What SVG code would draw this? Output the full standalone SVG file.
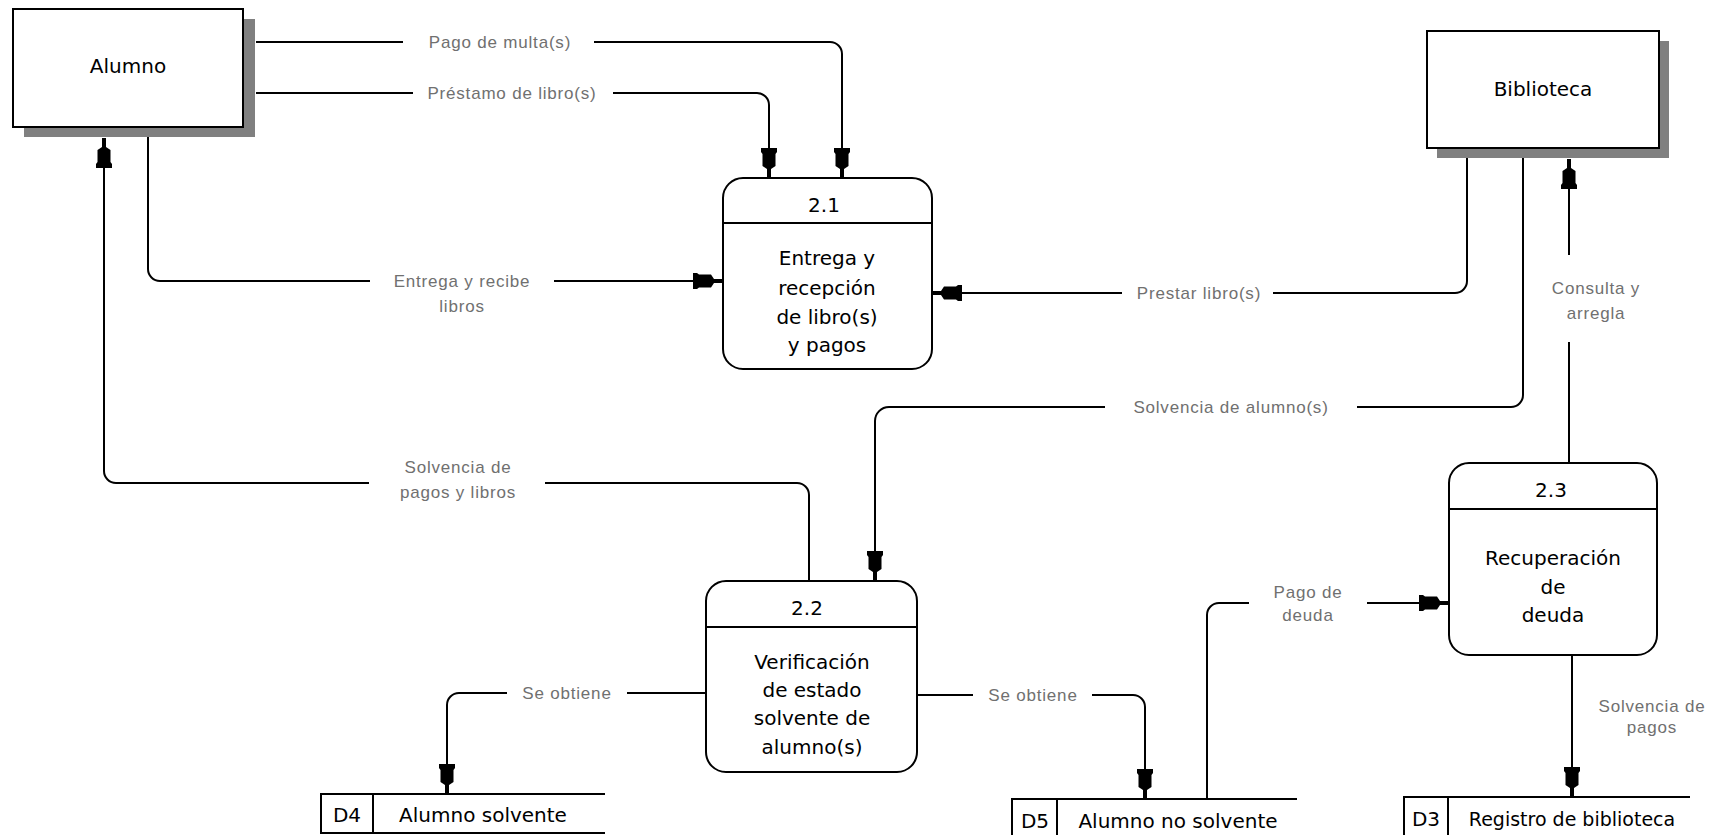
<svg xmlns="http://www.w3.org/2000/svg" width="1715" height="835" viewBox="0 0 1715 835">
  <style>
    .box { fill: #ffffff; stroke: #000000; stroke-width: 2; }
    .shadow { fill: #808080; stroke: none; }
    .proc { fill: #ffffff; stroke: #000000; stroke-width: 2; }
    .div { stroke: #000000; stroke-width: 2; fill: none; }
    .flow { fill: none; stroke: #000000; stroke-width: 2; marker-end: url(#arr); }
    .t { font-family: "DejaVu Sans", Verdana, sans-serif; font-size: 20px; fill: #000000; text-anchor: middle; }
    .lbl { font-family: "Liberation Sans", Arial, sans-serif; font-size: 17px; fill: #707070; text-anchor: middle; letter-spacing: 0.8px; }
  </style>
  <defs>
    <marker id="arr" markerUnits="userSpaceOnUse" viewBox="-32 -10 34 20" markerWidth="34" markerHeight="20" refX="0" refY="0" orient="auto">
      <path d="M0,-2 L-9,-2 L-12,-6.5 L-24,-6.5 L-26,-8 L-30,-8 L-30,8 L-26,8 L-24,6.5 L-12,6.5 L-9,2 L0,2 Z" fill="#000000"/>
    </marker>
  </defs>

  <g id="alumno">
    <rect class="shadow" x="24" y="19" width="231" height="118"/>
    <rect class="box" x="13" y="9" width="230" height="118"/>
    <text class="t" x="128" y="73">Alumno</text>
  </g>

  <g id="biblioteca">
    <rect class="shadow" x="1437" y="41" width="232" height="117"/>
    <rect class="box" x="1427" y="31" width="232" height="117"/>
    <text class="t" x="1543" y="96">Biblioteca</text>
  </g>

  <g id="p21">
    <rect class="proc" x="723" y="178" width="209" height="191" rx="20" ry="20"/>
    <line class="div" x1="723" y1="223" x2="932" y2="223"/>
    <text class="t" x="824" y="212">2.1</text>
    <text class="t" x="827" y="265">Entrega y</text>
    <text class="t" x="827" y="295">recepción</text>
    <text class="t" x="827" y="324">de libro(s)</text>
    <text class="t" x="827" y="352">y pagos</text>
  </g>

  <g id="p22">
    <rect class="proc" x="706" y="581" width="211" height="191" rx="20" ry="20"/>
    <line class="div" x1="706" y1="627" x2="917" y2="627"/>
    <text class="t" x="807" y="615">2.2</text>
    <text class="t" x="812" y="669">Verificación</text>
    <text class="t" x="812" y="697">de estado</text>
    <text class="t" x="812" y="725">solvente de</text>
    <text class="t" x="812" y="754">alumno(s)</text>
  </g>

  <g id="p23">
    <rect class="proc" x="1449" y="463" width="208" height="192" rx="20" ry="20"/>
    <line class="div" x1="1449" y1="509" x2="1657" y2="509"/>
    <text class="t" x="1551" y="497">2.3</text>
    <text class="t" x="1553" y="565">Recuperación</text>
    <text class="t" x="1553" y="594">de</text>
    <text class="t" x="1553" y="622">deuda</text>
  </g>

  <g id="d4">
    <rect class="box" x="321" y="794" width="52" height="39"/>
    <line class="div" x1="373" y1="794" x2="605" y2="794"/>
    <line class="div" x1="373" y1="833" x2="605" y2="833"/>
    <text class="t" x="347" y="822">D4</text>
    <text class="t" x="483" y="822">Alumno solvente</text>
  </g>

  <g id="d5">
    <rect class="box" x="1012" y="799" width="45" height="42"/>
    <line class="div" x1="1057" y1="799" x2="1297" y2="799"/>
    <text class="t" x="1035" y="828">D5</text>
    <text class="t" x="1178" y="828">Alumno no solvente</text>
  </g>

  <g id="d3">
    <rect class="box" x="1404" y="797" width="44" height="42"/>
    <line class="div" x1="1448" y1="797" x2="1690" y2="797"/>
    <text class="t" x="1426" y="826">D3</text>
    <text class="t" x="1572" y="826" style="font-size:19px">Registro de biblioteca</text>
  </g>

  <g id="connectors">
    <path class="flow" d="M256,42 H403 M594,42 H830 A12,12 0 0 1 842,54 V178"/>
    <path class="flow" d="M256,93 H413 M613,93 H757 A12,12 0 0 1 769,105 V178"/>
    <path class="flow" d="M148,137 V269 A12,12 0 0 0 160,281 H370 M554,281 H723"/>
    <path class="flow" d="M1467,158 V281 A12,12 0 0 1 1455,293 H1273 M1122,293 H932"/>
    <path class="flow" d="M1523,158 V395 A12,12 0 0 1 1511,407 H1357 M1105,407 H889 A14,14 0 0 0 875,421 V581"/>
    <path class="flow" d="M809,581 V495 A12,12 0 0 0 797,483 H545 M369,483 H116 A12,12 0 0 1 104,471 V138"/>
    <path class="flow" d="M1569,463 V342 M1569,255 V159"/>
    <path class="flow" d="M706,693 H627 M507,693 H459 A12,12 0 0 0 447,705 V794"/>
    <path class="flow" d="M917,695 H973 M1092,695 H1133 A12,12 0 0 1 1145,707 V799"/>
    <path class="flow" d="M1207,799 V615 A12,12 0 0 1 1219,603 H1249 M1367,603 H1449"/>
    <path class="flow" d="M1572,655 V797"/>

    <text class="lbl" x="500" y="48">Pago de multa(s)</text>
    <text class="lbl" x="512" y="99">Préstamo de libro(s)</text>
    <text class="lbl" x="462" y="287">Entrega y recibe</text>
    <text class="lbl" x="462" y="312">libros</text>
    <text class="lbl" x="1199" y="299">Prestar libro(s)</text>
    <text class="lbl" x="1231" y="413">Solvencia de alumno(s)</text>
    <text class="lbl" x="1596" y="294">Consulta y</text>
    <text class="lbl" x="1596" y="319">arregla</text>
    <text class="lbl" x="458" y="473">Solvencia de</text>
    <text class="lbl" x="458" y="498">pagos y libros</text>
    <text class="lbl" x="567" y="699">Se obtiene</text>
    <text class="lbl" x="1033" y="701">Se obtiene</text>
    <text class="lbl" x="1308" y="598">Pago de</text>
    <text class="lbl" x="1308" y="621">deuda</text>
    <text class="lbl" x="1652" y="712">Solvencia de</text>
    <text class="lbl" x="1652" y="733">pagos</text>
  </g>
</svg>
